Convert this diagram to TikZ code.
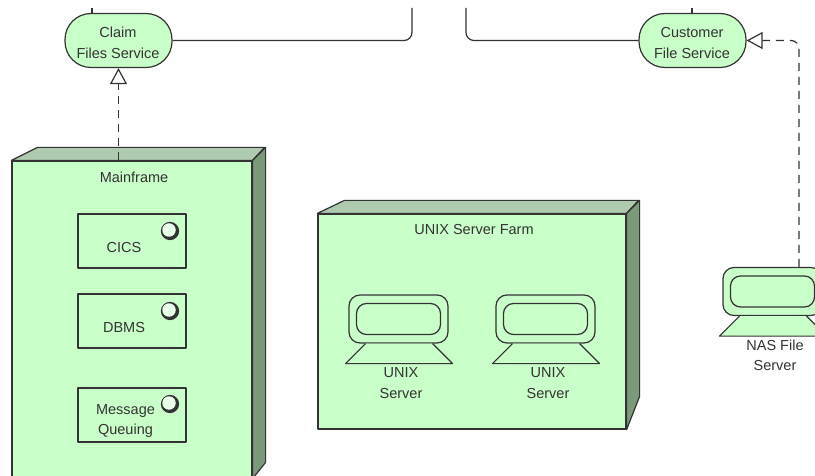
\documentclass[tikz,border=0pt]{standalone}
\usepackage{fontspec}
\setmainfont{Liberation Sans}
\usetikzlibrary{arrows.meta}
\definecolor{frontgreen}{HTML}{C9FFC9}
\definecolor{topgreen}{HTML}{AFCBAF}
\definecolor{sidegreen}{HTML}{7A9A7A}
\definecolor{linegray}{HTML}{333333}
\begin{document}
\begin{tikzpicture}[x=1pt,y=-1pt,auto,line width=1.2pt,line join=round,color=linegray,
                    service node/.style={rectangle,draw,fill=frontgreen,rounded corners=26pt,minimum width=107pt,minimum height=54pt,inner sep=0pt},
                    cube node/.style={rectangle,draw,fill=frontgreen,inner sep=0pt},
                    comp node/.style={rectangle,draw,fill=frontgreen,minimum width=108pt,minimum height=54pt,inner sep=0pt},
                    device node/.style={rectangle,draw,fill=frontgreen,rounded corners=11pt,minimum width=99pt,minimum height=48pt,inner sep=0pt},
                    screen node/.style={rectangle,draw,rounded corners=10pt,minimum width=84pt,minimum height=31pt,inner sep=0pt},
                    icon node/.style={circle,draw,fill=linegray,minimum size=17pt,inner sep=0pt},
                    hole node/.style={circle,fill=frontgreen!40!white,minimum size=13.5pt,inner sep=0pt},
                    text node/.style={align=center,inner sep=0pt,font=\fontsize{14.5}{20.5}\selectfont},
                    realizes/.style={dashed,dash pattern=on 8pt off 6pt,-{Triangle[open,length=16pt,width=17pt]}}]
  \clip (0,0) rectangle (815,476);

  % services
  \node[service node] (claim) at (118.5,40.5) {};
  \node[service node] (customer) at (692.5,40.5) {};
  \node[text node] (claimtext) at (118,43) {Claim\\Files Service};
  \node[text node] (customertext) at (692,43) {Customer\\File Service};
  \coordinate (claimup) at (92,8);
  \coordinate (customerup) at (692,8);
  \coordinate (claimend) at (412,8);
  \coordinate (customerend) at (466,8);

  \draw (claimup) -- (claimup |- claim.north);
  \draw (customerup) -- (customerup |- customer.north);
  \draw[rounded corners=8pt] (claim.east) -| (claimend);
  \draw[rounded corners=8pt] (customer.west) -| (customerend);

  % mainframe
  \node[cube node,minimum width=240pt,minimum height=317pt] (mainframe) at (132,319.5) {};
  \draw[fill=topgreen] (mainframe.north west) -- ++(26,-13) -- ++(227,0) -- (mainframe.north east) -- cycle;
  \draw[fill=sidegreen] (mainframe.north east) -- ++(13,-13) -- ++(0,315) -- (mainframe.south east) -- cycle;
  \node[text node] (mainframetext) at (134,177) {Mainframe};

  \node[comp node] (cics) at (132,241) {};
  \node[comp node] (dbms) [below of=cics,node distance=80pt] {};
  \node[comp node] (queue) [below of=dbms,node distance=94pt] {};
  \node[text node] (cicstext) at (124,248) {CICS};
  \node[text node] (dbmstext) at (124,328) {DBMS};
  \node[text node] (queuetext) at (125.5,421) {Message\\Queuing};
  \foreach \comp/\ypos in {cics/231,dbms/311,queue/404} {
    \node[icon node] (\comp icon) at (170,\ypos) {};
    \node[hole node] (\comp hole) at (169,\ypos-1) {};
  }

  % unix farm
  \node[cube node,minimum width=308pt,minimum height=215pt] (farm) at (472,321.5) {};
  \draw[fill=topgreen] (farm.north west) -- ++(27,-13) -- ++(294,0) -- (farm.north east) -- cycle;
  \draw[fill=sidegreen] (farm.north east) -- ++(13,-13) -- ++(0,196) -- (farm.south east) -- cycle;
  \node[text node] (farmtext) at (474,230) {UNIX Server Farm};

  \foreach \dev/\xpos/\ypos/\name in {unixa/398.5/319/{UNIX\\Server},unixb/545.5/319/{UNIX\\Server},nas/772.5/291.5/{NAS File\\Server}} {
    \node[device node] (\dev) at (\xpos,\ypos) {};
    \node[screen node] (\dev screen) at (\dev) {};
    \draw[fill=frontgreen] ([xshift=-33pt]\dev.south) -- ++(-20,20) -- ++(107,0) -- ++(-20,-20);
    \node[text node,below of=\dev,node distance=64pt,xshift=2.5pt] (\dev text) {\name};
  }

  % realizations
  \draw[realizes] (mainframe.north -| claim.south) -- (claim.south);
  \draw[realizes,rounded corners=8pt] ([xshift=26.5pt]nas.north) |- (customer.east);
\end{tikzpicture}
\end{document}
